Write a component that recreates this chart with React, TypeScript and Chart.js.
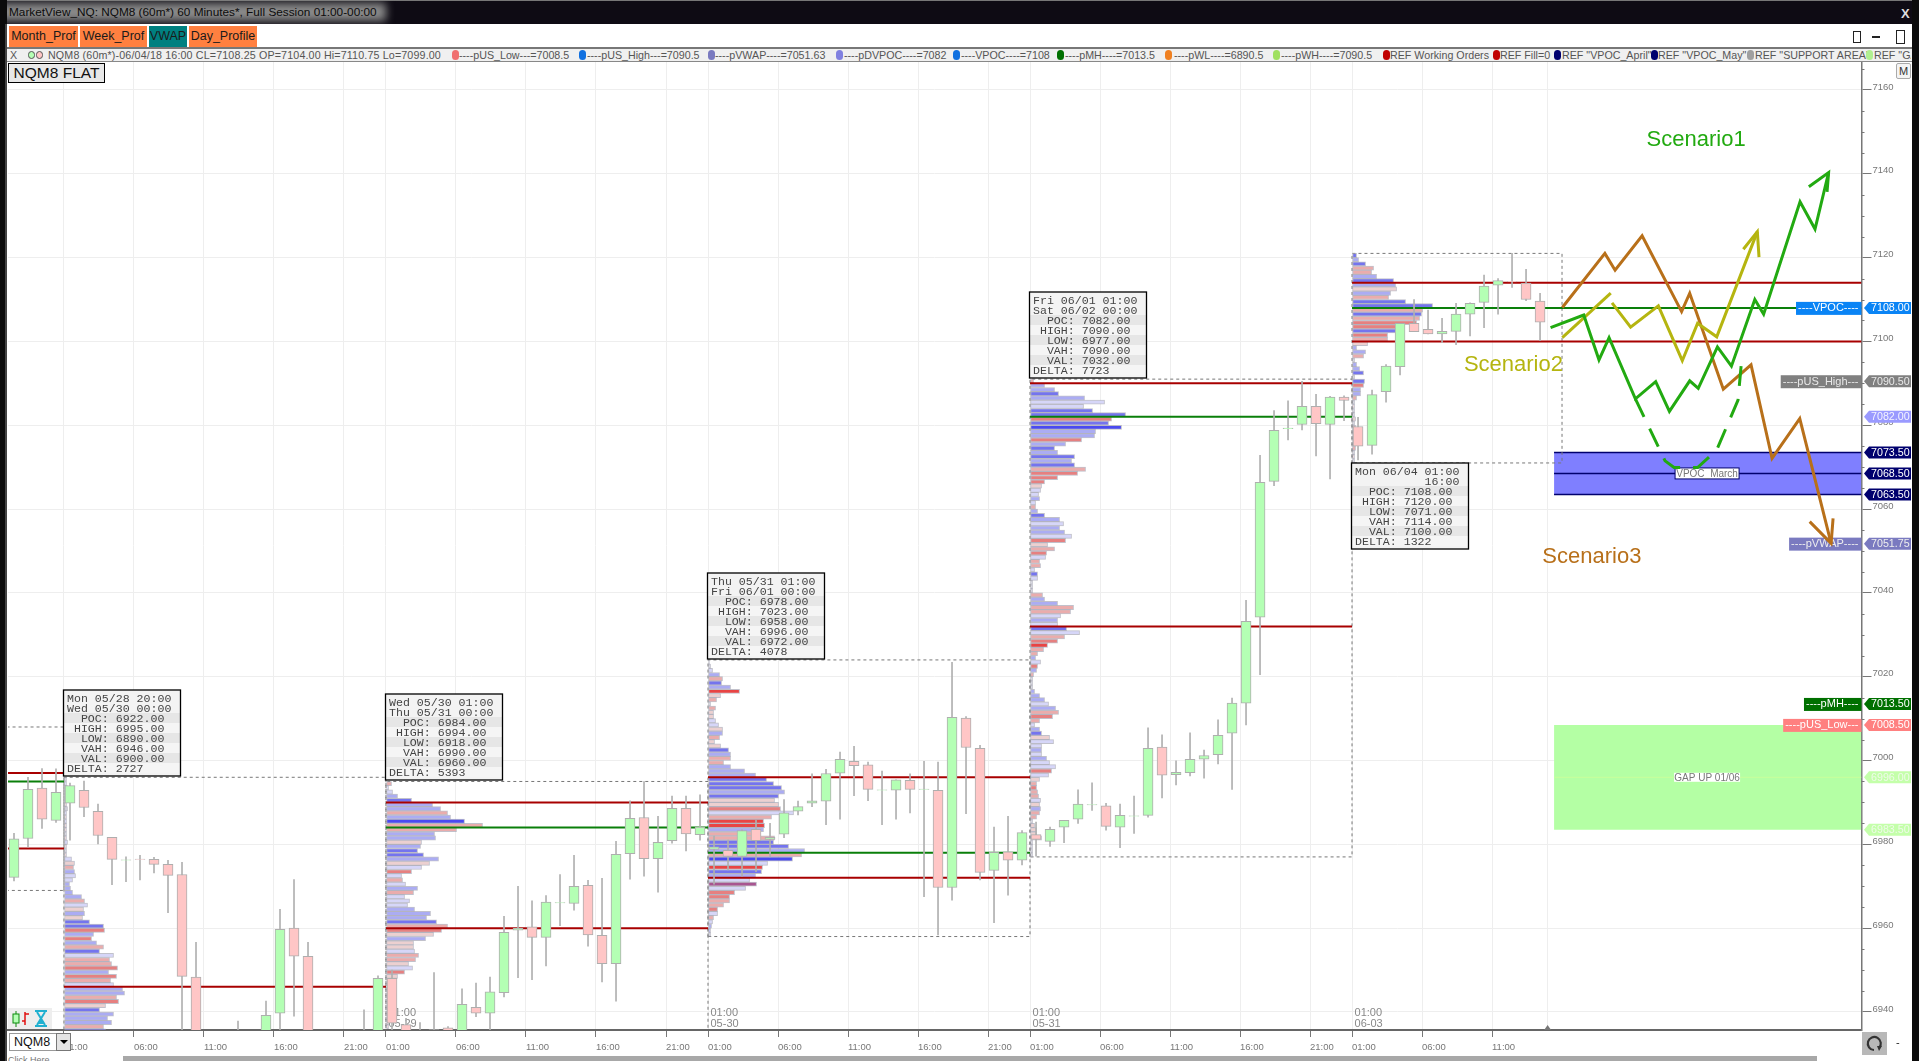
import React, { useEffect, useRef } from 'react';
import { Chart, registerables } from 'chart.js';

Chart.register(...registerables);

const UI_FONT = '"Liberation Sans", Arial, sans-serif';
const MONO_FONT = '"Liberation Mono", monospace';

// hourly candles, slot 1 is the first bar on the left edge
const candleOpen = [
  6972.1, 6981.4, 6993.4, 6985.7, 6989.8, 6992.9, 6987.9, 6981.7, 6976.2, 6976.5,
  6976.4, 6975.2, 6972.8, 6948.3, 6925, 6921, 6918, 6925, 6922, 6939.7,
  6960, 6953.3, 6930, 6926, 6930, 6928, 6932, 6948, 6937, 6930,
  6933, 6936.2, 6933, 6941.1, 6939.7, 6944.6, 6959.5, 6960.3, 6957.8, 6966,
  6965.9, 6970.2, 6958.3, 6951.5, 6977.8, 6986.4, 6976.6, 6980.9, 6988.6, 6982.3,
  6978.8, 6978.6, 6977.1, 6983.6, 6981.2, 6982.4, 6987.9, 6989.8, 6990.3, 6997,
  6999.8, 6999, 6992.9, 6992.9, 6995.3, 6993.1, 6992.9, 6969.7, 7010.1, 7002.9,
  6973.8, 6978.2, 6976.2, 6982.3, 6980.7, 6984.1, 6986, 6989.4, 6989.2, 6984.1,
  6986.7, 6986.9, 7003.2, 6996.6, 6997.1, 7000.3, 7001.4, 7006.5, 7013.7, 7034.2,
  7066.6, 7079.2, 7080.2, 7084.5, 7080.2, 7086.7, 7079.7, 7075.2, 7088, 7094,
  7104.3, 7102.9, 7101.8, 7102.4, 7106.5, 7109.3, 7113.4, 7114.3, 7113.9, 7109.6,
];
const candleHigh = [
  6982.6, 6996, 6998.1, 6998, 6994.6, 6995.1, 6989.6, 6981.7, 6977, 6977.4,
  6976.9, 6976.2, 6975.7, 6956.6, 6934, 6930, 6937.8, 6933, 6942.6, 6964.5,
  6971.6, 6956.6, 6934, 6932, 6934, 6940.5, 6948.6, 6950, 6938.5, 6937.5,
  6949.4, 6936.5, 6945.5, 6946.9, 6948.3, 6962.8, 6970, 6966.5, 6967.8, 6972.8,
  6977.4, 6971.4, 6971.9, 6980.7, 6990.4, 6995, 6986.7, 6991.5, 6991.5, 6991.8,
  6982, 6981, 6983.5, 6985.8, 6985, 6990.7, 6990.3, 6996.8, 6997.9, 7002,
  7003.4, 6999.6, 6997.5, 6995.4, 6996.8, 6999.8, 6999.6, 7023.4, 7010.5, 7003.6,
  6984.1, 6986.7, 6983.3, 6985.3, 6984.1, 6985.7, 6993, 6994.7, 6989.8, 6989.6,
  6991.5, 7007.8, 7006.1, 6999.9, 7006.6, 7002.5, 7009.7, 7014.9, 7038.2, 7072.8,
  7083.5, 7085.8, 7090.5, 7087.4, 7086.9, 7087, 7081.9, 7088.4, 7094.5, 7104.3,
  7110, 7107.5, 7105.5, 7109.1, 7109.2, 7115.8, 7115, 7121, 7117.2, 7111.5,
];
const candleLow = [
  6971.3, 6979.4, 6983.8, 6985.2, 6981, 6986.6, 6980.1, 6970.4, 6971.1, 6971.5,
  6973.2, 6963.7, 6930, 6920, 6918, 6915, 6912, 6918, 6918, 6930,
  6939, 6928, 6922, 6920, 6925, 6924, 6928, 6933, 6926, 6925,
  6930, 6930, 6930, 6938.9, 6934, 6943.6, 6948.2, 6947.7, 6951, 6960.6,
  6964.3, 6955.7, 6947.2, 6942.6, 6971.7, 6972.4, 6968.6, 6980.3, 6978.4, 6981,
  6970.5, 6973.9, 6972.4, 6973.5, 6977, 6981.6, 6987, 6989, 6984.7, 6986,
  6991.6, 6990.4, 6984.7, 6986, 6987.5, 6967.5, 6958.4, 6966.7, 6987.3, 6971.5,
  6961.3, 6967.9, 6975.1, 6977.2, 6979.5, 6980.4, 6985, 6988.1, 6983.4, 6979.2,
  6982.6, 6986.5, 6991.1, 6994.2, 6996.3, 6995.8, 6999.2, 6993.1, 7008.5, 7020.5,
  7065.6, 7076.5, 7078.9, 7072.7, 7067.2, 7081.1, 7071.7, 7073.1, 7085.5, 7092,
  7102.3, 7101.8, 7099.7, 7099.2, 7101.3, 7103.3, 7106.5, 7112.9, 7109.7, 7100.2,
];
const candleClose = [
  6981.3, 6993.1, 6986, 6992.4, 6994, 6988.8, 6982.1, 6976.4, 6976.3, 6976.4,
  6975.2, 6972.6, 6948.5, 6925, 6921, 6918, 6925, 6922, 6939.2, 6959.7,
  6953.3, 6930, 6926, 6930, 6928, 6932, 6948, 6937.3, 6930, 6932,
  6935.8, 6933, 6941.8, 6939.7, 6944.8, 6959, 6960, 6957.8, 6966.2, 6966.1,
  6970, 6958.4, 6951.5, 6977.6, 6986.2, 6976.6, 6980.5, 6988.6, 6982.5, 6984.1,
  6979.4, 6977.1, 6983.3, 6980.9, 6981.7, 6987.5, 6989, 6990.4, 6996.9, 7000.3,
  6998.8, 6993.1, 6993, 6995.4, 6993.1, 6993.2, 6969.7, 7010.3, 7003.1, 6973.3,
  6978.1, 6976.2, 6982.8, 6981.2, 6983.6, 6985.7, 6989.6, 6989.5, 6984.3, 6986.9,
  6986.8, 7002.9, 6996.5, 6997.2, 7000.3, 7001.2, 7006, 7013.7, 7033.2, 7066.4,
  7078.8, 7079.3, 7084.5, 7080.4, 7086.7, 7085.9, 7075, 7087.3, 7094.1, 7104.3,
  7102.3, 7101.8, 7102.4, 7106.5, 7109.1, 7113.2, 7114.5, 7114.2, 7110, 7104.6,
];

// sessions: first slot of each, and what the summary boxes say
const sessionStart = [4.57, 27.57, 50.57, 73.57, 96.57];
const sessionEnd = [27.57, 50.57, 73.57, 96.57, 111.57];
const sessionFrom = ['Mon 05/28 20:00', 'Wed 05/30 01:00', 'Thu 05/31 01:00', 'Fri 06/01 01:00', 'Mon 06/04 01:00'];
const sessionTo = ['Wed 05/30 00:00', 'Thu 05/31 00:00', 'Fri 06/01 00:00', 'Sat 06/02 00:00', '          16:00'];
const sessionPoc = [6922, 6984, 6978, 7082, 7108];
const sessionHigh = [6995, 6994, 7023, 7090, 7120];
const sessionLow = [6890, 6918, 6958, 6977, 7071];
const sessionVah = [6946, 6990, 6996, 7090, 7114];
const sessionVal = [6900, 6960, 6972, 7032, 7100];
const sessionDelta = [2727, 5393, 4078, 7723, 1322];

// volume profile rows, top row first, one row per point
const profileVolume0 = [
  2, 2, 3, 3, 2, 2, 2, 3, 2, 2, 2, 2, 2, 2, 2, 3, 2, 2, 2,
  7, 10, 9, 10, 11, 8, 5, 6, 8, 17, 20, 23, 19, 20, 18, 25, 39, 40, 29, 27, 32, 39, 35, 49,
  45, 47, 53, 44, 52, 46, 49, 58, 60, 52, 54, 41, 35, 49, 43, 47, 39, 41,
];
const profileTone0 = 'naadnadnadaddndadnd' + 'adebaabbbbeadbdccfbfbecaeefbfeabbefdcbbbec';
const profileVolume1 = [
  5, 2, 6, 11, 25, 46, 54, 61, 64, 78, 96, 70, 48, 49, 35, 34, 31, 37, 52, 43, 35, 25, 15, 16,
  19, 31, 27, 18, 23, 21, 28, 44, 40, 50, 61, 55, 47, 39, 27, 27, 28, 32, 29, 22, 26, 18, 11,
  8, 7, 6, 5, 5, 4, 4, 3, 3, 2, 2, 2,
];
const profileTone1 = 'eaabcbbebheebbdbccbdafaeabeaaabbbcefdbddaeedafd' + 'ddeddaaddadd';
const profileVolume2 = [
  1, 2, 4, 11, 14, 13, 22, 31, 12, 8, 2, 7, 5, 5, 7, 10, 14, 14, 11, 6, 12, 20, 22, 22, 15, 22,
  36, 47, 58, 65, 73, 76, 70, 66, 70, 72, 85, 63, 55, 56, 55, 52, 66, 65, 80, 96, 93, 84, 59, 54,
  53, 47, 41, 48, 37, 26, 21, 21, 15, 9, 9, 5, 4, 3, 2, 2,
];
const profileTone2 = 'nnabecbgdeneddaadbeddcbeebbbcccbcddfaeggbeeccbehagcbapaffeefaeabbnn';
const profileVolume3 = [
  3, 14, 24, 28, 54, 74, 53, 62, 95, 81, 78, 91, 65, 64, 51, 35, 24, 27, 44, 41,
  44, 55, 47, 27, 14, 11, 10, 8, 9, 5, 5, 7, 14, 29, 33, 29, 34, 41, 35, 17,
  24, 16, 15, 9, 10, 4, 7, 7, 2, 2, 2, 12, 14, 27, 43, 40, 30, 27, 27, 36,
  49, 34, 27, 17, 13, 7, 5, 10, 7, 6, 3, 2, 2, 2, 4, 9, 14, 18, 25, 28,
  22, 9, 4, 9, 11, 19, 23, 11, 11, 11, 16, 19, 25, 21, 18, 9, 6, 6, 7, 8,
  10, 9, 10, 9, 6, 2, 4, 6, 6, 11, 2, 2, 2, 2,
];
const profileTone3 =
  'ebbcbaaccf' + 'chbbfbcbcb' + 'cefffdaaba' + 'ebcbabbafd' + 'efaeeacann' +
  'nebbeeabac' + 'aefgeebafb' + 'ennnbbbabe' + 'feabcdaaba' + 'baafadefee' + 'adbeendddd' + 'nnnn';
const profileVolume4 = [
  4, 6, 13, 21, 19, 24, 41, 43, 44, 38, 36, 53, 80, 70, 69, 67, 64, 49, 44, 35, 35, 15, 4, 13,
  11, 2, 4, 7, 11, 2, 12, 11, 8, 8, 4, 2, 2, 2, 2, 3, 2, 3, 3, 3, 2, 3, 3, 2, 2, 2,
];
const profileTone4 = 'cbceebcbdbecceceffcfedbbenbbcncfbbendnndnenendendn';
const profileVolumes = [profileVolume0, profileVolume1, profileVolume2, profileVolume3, profileVolume4];
const profileTones = [profileTone0, profileTone1, profileTone2, profileTone3, profileTone4];
const toneColors: Record<string, string> = {
  a: '#d6d6f8', b: '#abacf3', c: '#7474ee', h: '#4a4af0', n: '#cfcfd8',
  d: '#ecd0d0', e: '#eaacac', f: '#e68080', g: '#e84444', p: '#a85590',
};

// the session that ran off the left edge
const prevLevels = [6997, 6995, 6979];
const prevBoxHigh = 7008;
const prevBoxLow = 6969;

// hand-drawn scenario paths, [slot, price]
const scenario1Path = [
  [110.75, 7103.3], [113.12, 7106.3], [114.21, 7095.6], [114.93, 7100.9], [116.81, 7086.3], [118.26, 7090.4],
  [119.24, 7083.3], [120.69, 7090.6], [121.3, 7088.8], [122.67, 7098.7], [123.67, 7094.1], [125.34, 7110],
  [125.97, 7106.5], [128.57, 7133.3], [129.64, 7126.8], [130.61, 7140.3],
];
const scenario1Head = [[129.2, 7136.9], [130.61, 7140.3], [130.5, 7135.7]];
const scenario1Dashed = [
  [116.81, 7086.3], [118.93, 7071.5], [119.57, 7069.9], [121.25, 7069.9], [122.62, 7074.1], [124.14, 7086], [124.36, 7094.1],
];
const scenario2Start = [[111.59, 7100.9], [115.05, 7111.5]];
const scenario2Path = [
  [115.14, 7109.2], [116.47, 7103.4], [118.45, 7108.5], [120.16, 7095.4], [121.25, 7104.3], [122.62, 7101.1], [125.52, 7126.2],
];
const scenario2Head = [[124.52, 7122], [125.52, 7126.2], [125.64, 7120.1]];
const scenario3Path = [
  [111.59, 7108.1], [114.63, 7121], [115.36, 7117], [117.29, 7125.2], [120.11, 7107.1], [120.69, 7111.5],
  [123.09, 7088.6], [125.07, 7094.4], [126.57, 7072.1], [128.55, 7081.6], [130.79, 7051.8],
];
const scenario3Head = [[129.26, 7057], [130.79, 7051.8], [130.93, 7057.8]];

const scenarioNames = ['Scenario1', 'Scenario2', 'Scenario3'];
const scenarioNameSlots = [121.15, 108.1, 113.7];
const scenarioNamePrices = [7148, 7094.3, 7048.6];
const scenarioColors = ['#22aa11', '#b5b510', '#b8701a'];

// price zones
const vpocZone = [7073.5, 7068.5, 7063.5];
const gapZone = [7008.5, 6996, 6983.5];
const zoneStart = 111;

// right-hand price tags
const tagPrices = [7108, 7090.5, 7082, 7073.5, 7068.5, 7063.5, 7051.75, 7013.5, 7008.5, 6996, 6983.5];
const tagTitles = ['----VPOC----', '----pUS_High---', '', '', '', '', '----pVWAP----', '----pMH----', '----pUS_Low---', '', ''];
const tagColors = ['#0a84f5', '#808080', '#9a9aff', '#00006e', '#00006e', '#00006e', '#7a7ac0', '#007000', '#ff8080', '#c4ffaa', '#c4ffaa'];
const tagInk = ['#fff', '#e8e8e8', '#f4f4ff', '#fff', '#fff', '#fff', '#eee', '#fff', '#fff', '#eefbe8', '#eefbe8'];

// time axis
const timeTickSlots = [
  4.57, 9.57, 14.57, 19.57, 24.57, 27.57, 32.57, 37.57, 42.57, 47.57, 50.57, 55.57, 60.57, 65.57, 70.57,
  73.57, 78.57, 83.57, 88.57, 93.57, 96.57, 101.57, 106.57, 110.54,
];
const timeTickLabels = [
  '01:00', '06:00', '11:00', '16:00', '21:00', '01:00', '06:00', '11:00', '16:00', '21:00', '01:00', '06:00', '11:00', '16:00', '21:00',
  '01:00', '06:00', '11:00', '16:00', '21:00', '01:00', '06:00', '11:00', '',
];
const dayMarkSlots = [27.57, 50.57, 73.57, 96.57];
const dayMarkDates = ['05-29', '05-30', '05-31', '06-03'];

const legendItems: [number, string, number, string][] = [
  [455, '#f07070', 459, '----pUS_Low---=7008.5'],
  [582, '#1070e0', 587, '----pUS_High---=7090.5'],
  [711, '#7a7ac0', 715, '----pVWAP----=7051.63'],
  [839, '#8080e0', 844, '----pDVPOC----=7082'],
  [956, '#1070e0', 961, '----VPOC----=7108'],
  [1060, '#007000', 1065, '----pMH----=7013.5'],
  [1168, '#f08020', 1174, '----pWL----=6890.5'],
  [1276, '#a0e060', 1281, '----pWH----=7090.5'],
  [1386, '#c00000', 1390, 'REF Working Orders'],
  [1496, '#c00000', 1500, 'REF Fill=0'],
  [1557, '#00006e', 1562, 'REF "VPOC_April"'],
  [1654, '#00006e', 1658, 'REF "VPOC_May"'],
  [1750, '#a0a0a0', 1755, 'REF "SUPPORT AREA"'],
  [1869, '#b0f090', 1874, 'REF "GA'],
];

const X_MIN = 0.5714;
const X_MAX = 132.96;
const Y_MIN = 6935.7;
const Y_MAX = 7166.67;
const VOLUME_PER_SLOT = 14;

const toPoints = (path: number[][]) => path.map(([x, y]) => ({ x, y }));

const lineSet = (label: string, path: number[][], color: string, width: number, order: number, extra: object = {}) => ({
  type: 'line' as const,
  label,
  data: toPoints(path),
  borderColor: color,
  borderWidth: width,
  pointRadius: 0,
  tension: 0,
  order,
  ...extra,
});

const boxPath = (x0: number, x1: number, top: number, bottom: number) => [
  [x0, bottom], [x0, top], [x1, top], [x1, bottom], [x0, bottom],
];

const buildDatasets = () => {
  const sets: any[] = [];

  // zones at the back
  sets.push(lineSet('VPOC zone', [[zoneStart, vpocZone[0]], [X_MAX, vpocZone[0]]], '#00006e', 1.5, 7, { fill: { value: vpocZone[2] }, backgroundColor: '#7f7fff' }));
  sets.push(lineSet('VPOC zone mid', [[zoneStart, vpocZone[1]], [X_MAX, vpocZone[1]]], '#00006e', 1.5, 4));
  sets.push(lineSet('VPOC zone low', [[zoneStart, vpocZone[2]], [X_MAX, vpocZone[2]]], '#00006e', 1.5, 4));
  sets.push(lineSet('Gap zone', [[zoneStart, gapZone[0]], [X_MAX, gapZone[0]]], '#b4ffa4', 0, 7, { fill: { value: gapZone[2] }, backgroundColor: '#b4ffa4' }));
  sets.push(lineSet('Gap zone mid', [[zoneStart, gapZone[1]], [X_MAX, gapZone[1]]], '#c8ff9c', 1, 6));

  // session boxes
  const dash = { borderDash: [3, 3] };
  sets.push(lineSet('Prev box', boxPath(-2, sessionStart[0], prevBoxHigh, prevBoxLow), '#777', 1, 6, dash));
  sessionStart.forEach((start, i) => {
    sets.push(lineSet(`Box ${i}`, boxPath(start, sessionEnd[i], sessionHigh[i] + 1, sessionLow[i]), '#777', 1, 6, dash));
  });

  // profiles
  profileVolumes.forEach((volumes, i) => {
    sets.push({
      type: 'bar',
      label: `Profile ${i}`,
      indexAxis: 'y',
      grouped: false,
      barThickness: 4.2,
      borderWidth: 1,
      borderSkipped: false,
      borderColor: 'rgba(160,160,175,0.65)',
      backgroundColor: volumes.map((_, j) => toneColors[profileTones[i][j]] || toneColors.a),
      data: volumes.map((v, j) => ({
        x: [sessionStart[i] + 0.04, sessionStart[i] + 0.04 + v / VOLUME_PER_SLOT],
        y: sessionHigh[i] - j + 0.5,
      })),
      order: 5,
    });
  });

  // value area and point of control lines
  prevLevels.forEach((level, i) => {
    sets.push(lineSet(`Prev ${i}`, [[-2, level], [sessionStart[0], level]], i === 1 ? '#0a7f0a' : '#a80000', 2, 4));
  });
  sessionStart.forEach((start, i) => {
    const end = i === sessionStart.length - 1 ? X_MAX : sessionEnd[i];
    sets.push(lineSet(`VAH ${i}`, [[start, sessionVah[i]], [end, sessionVah[i]]], '#a80000', 2, 4));
    sets.push(lineSet(`VAL ${i}`, [[start, sessionVal[i]], [end, sessionVal[i]]], '#a80000', 2, 4));
    sets.push(lineSet(`POC ${i}`, [[start, sessionPoc[i]], [end, sessionPoc[i]]], '#0a7f0a', 2, 4));
  });

  // candles
  sets.push({
    type: 'bar',
    label: 'Wicks',
    grouped: false,
    barThickness: 1,
    backgroundColor: '#b0b0b0',
    data: candleHigh.map((h, i) => ({ x: i + 1, y: [candleLow[i], h] })),
    order: 3,
  });
  sets.push({
    type: 'bar',
    label: 'Bodies',
    grouped: false,
    barThickness: 10,
    borderWidth: 1,
    borderSkipped: false,
    borderColor: '#aeaeae',
    backgroundColor: candleOpen.map((o, i) => (candleClose[i] >= o ? '#b4ffb4' : '#ffc6c6')),
    data: candleOpen.map((o, i) => ({ x: i + 1, y: [o, candleClose[i]] })),
    order: 2,
  });

  // layer marker: labels get painted here, under the scenario strokes
  sets.push({ type: 'line', label: 'label-layer', data: [], order: 1.5 });

  // scenarios
  sets.push(lineSet('Scenario 1', scenario1Path, scenarioColors[0], 3, 1));
  sets.push(lineSet('Scenario 1 head', scenario1Head, scenarioColors[0], 3, 1));
  sets.push(lineSet('Scenario 1 alt', scenario1Dashed, scenarioColors[0], 3, 1, { borderDash: [20, 13] }));
  sets.push(lineSet('Scenario 2 start', scenario2Start, scenarioColors[1], 3, 1));
  sets.push(lineSet('Scenario 2', scenario2Path, scenarioColors[1], 3, 1));
  sets.push(lineSet('Scenario 2 head', scenario2Head, scenarioColors[1], 3, 1));
  sets.push(lineSet('Scenario 3', scenario3Path, scenarioColors[2], 3, 1));
  sets.push(lineSet('Scenario 3 head', scenario3Head, scenarioColors[2], 3, 1));
  return sets;
};

const drawTagLabel = (ctx: CanvasRenderingContext2D, text: string, right: number, y: number, color: string, ink: string) => {
  ctx.font = `11px ${UI_FONT}`;
  const w = ctx.measureText(text).width + 5;
  ctx.fillStyle = color;
  ctx.fillRect(right - w, y - 6, w, 13);
  ctx.fillStyle = ink;
  ctx.textAlign = 'left';
  ctx.textBaseline = 'middle';
  ctx.fillText(text, right - w + 2, y + 0.5);
};

const drawBoxedNote = (ctx: CanvasRenderingContext2D, text: string, cx: number, y: number, w: number, h: number, edge: string) => {
  ctx.fillStyle = '#fff';
  ctx.fillRect(cx - w / 2, y - h / 2, w, h);
  if (edge) {
    ctx.strokeStyle = edge;
    ctx.lineWidth = 1;
    ctx.strokeRect(cx - w / 2, y - h / 2, w, h);
  }
  ctx.fillStyle = '#777';
  ctx.font = `10px ${UI_FONT}`;
  ctx.textAlign = 'center';
  ctx.textBaseline = 'middle';
  ctx.fillText(text, cx, y + 0.5);
};

const tradingPlugin = {
  id: 'tradingOverlay',
  // date marks go under the candles
  beforeDatasetsDraw(chart: any) {
    const { ctx, scales } = chart;
    ctx.save();
    ctx.fillStyle = '#888';
    ctx.font = `11px ${UI_FONT}`;
    ctx.textAlign = 'left';
    ctx.textBaseline = 'middle';
    dayMarkSlots.forEach((slot, i) => {
      const x = scales.x.getPixelForValue(slot) + 2.5;
      ctx.fillText('01:00', x, scales.y.bottom - 17);
      ctx.fillText(dayMarkDates[i], x, scales.y.bottom - 6);
    });
    ctx.restore();
  },
  beforeDatasetDraw(chart: any, args: any) {
    if (chart.data.datasets[args.index].label !== 'label-layer') return;
    const { ctx, scales } = chart;
    ctx.save();
    tagPrices.forEach((price, i) => {
      if (tagTitles[i]) {
        drawTagLabel(ctx, tagTitles[i], scales.x.right, scales.y.getPixelForValue(price), tagColors[i], tagInk[i]);
      }
    });
    const noteX = scales.x.getPixelForValue(121.93);
    drawBoxedNote(ctx, 'VPOC_March', noteX, scales.y.getPixelForValue(vpocZone[1]), 64, 11, '#00006e');
    drawBoxedNote(ctx, 'GAP UP 01/06', noteX, scales.y.getPixelForValue(gapZone[1]), 66, 9, '');
    ctx.restore();
  },
  afterDatasetsDraw(chart: any) {
    const { ctx, scales } = chart;
    const xs = scales.x;
    const ys = scales.y;
    ctx.save();

    // summary boxes
    sessionStart.forEach((start, i) => {
      const rows = [
        sessionFrom[i],
        sessionTo[i],
        `  POC: ${sessionPoc[i].toFixed(2)}`,
        ` HIGH: ${sessionHigh[i].toFixed(2)}`,
        `  LOW: ${sessionLow[i].toFixed(2)}`,
        `  VAH: ${sessionVah[i].toFixed(2)}`,
        `  VAL: ${sessionVal[i].toFixed(2)}`,
        `DELTA: ${sessionDelta[i]}`,
      ];
      const left = Math.round(xs.getPixelForValue(start)) - 0.5;
      const last = i === sessionStart.length - 1;
      const top = last ? Math.round(ys.getPixelForValue(sessionLow[i])) : Math.round(ys.getPixelForValue(sessionHigh[i] + 1)) - 87;
      ctx.fillStyle = '#f3f3f3';
      ctx.fillRect(left, top, 117, 86);
      rows.forEach((row, r) => {
        const rowY = top + 3 + r * 10;
        if (r >= 2) {
          ctx.fillStyle = r % 2 === 0 ? '#e6e6e6' : '#f5f5f5';
          ctx.fillRect(left, rowY, 117, 10);
        }
        ctx.fillStyle = '#444';
        ctx.font = `11.6px ${MONO_FONT}`;
        ctx.textAlign = 'left';
        ctx.textBaseline = 'middle';
        ctx.fillText(row, left + 3.5, rowY + 5.5);
      });
      ctx.strokeStyle = '#000';
      ctx.lineWidth = 1.3;
      ctx.strokeRect(left, top, 117, 86);
    });

    // scenario names
    ctx.font = `22px ${UI_FONT}`;
    ctx.textAlign = 'center';
    ctx.textBaseline = 'middle';
    scenarioNames.forEach((name, i) => {
      ctx.fillStyle = scenarioColors[i];
      ctx.fillText(name, xs.getPixelForValue(scenarioNameSlots[i]), ys.getPixelForValue(scenarioNamePrices[i]));
    });

    // short price-axis ticks
    ctx.strokeStyle = '#777';
    ctx.lineWidth = 1;
    ys.ticks.forEach((tick: any) => {
      if (tick.value % 20 !== 0) {
        const y = Math.round(ys.getPixelForValue(tick.value)) + 0.5;
        ctx.beginPath();
        ctx.moveTo(xs.right, y);
        ctx.lineTo(xs.right + 3, y);
        ctx.stroke();
      }
    });

    // price tags
    tagPrices.forEach((price, i) => {
      const y = ys.getPixelForValue(price);
      const tip = xs.right + 2.5;
      ctx.fillStyle = tagColors[i];
      ctx.beginPath();
      ctx.moveTo(tip, y);
      ctx.lineTo(tip + 5, y - 6);
      ctx.lineTo(1911, y - 6);
      ctx.lineTo(1911, y + 6);
      ctx.lineTo(tip + 5, y + 6);
      ctx.closePath();
      ctx.fill();
      ctx.fillStyle = tagInk[i];
      ctx.font = `10.7px ${UI_FONT}`;
      ctx.textAlign = 'left';
      ctx.textBaseline = 'middle';
      ctx.fillText(price.toFixed(2), tip + 7, y + 0.5);
    });

    // last-bar marker on the time axis
    const markX = xs.getPixelForValue(timeTickSlots[timeTickSlots.length - 1]);
    ctx.fillStyle = '#777';
    ctx.beginPath();
    ctx.moveTo(markX - 3.5, ys.bottom);
    ctx.lineTo(markX, ys.bottom - 5);
    ctx.lineTo(markX + 3.5, ys.bottom);
    ctx.closePath();
    ctx.fill();
    ctx.restore();
  },
};

const abs = (left: number, top: number, width: number, height: number, extra: React.CSSProperties = {}): React.CSSProperties => ({
  position: 'absolute', left, top, width, height, ...extra,
});

const toolButton = (text: string, left: number, width: number, color: string) => (
  <div key={text} style={abs(left, 26, width, 21, { background: color, fontSize: 12.5, lineHeight: '21px', textAlign: 'center', color: '#1a1a1a', whiteSpace: 'nowrap' })}>
    {text}
  </div>
);

const App: React.FC = () => {
  const chartRef = useRef<HTMLCanvasElement>(null);

  useEffect(() => {
    document.body.style.margin = '0';
    if (!chartRef.current) return;
    const chart = new Chart(chartRef.current, {
      type: 'bar',
      data: { datasets: buildDatasets() },
      plugins: [tradingPlugin],
      options: {
        animation: false,
        responsive: false,
        devicePixelRatio: 1,
        events: [],
        layout: { padding: { left: 8, top: 62, right: 7, bottom: 6 } },
        plugins: { legend: { display: false }, tooltip: { enabled: false } },
        scales: {
          x: {
            type: 'linear',
            offset: false,
            min: X_MIN,
            max: X_MAX,
            afterBuildTicks: (scale: any) => {
              scale.ticks = timeTickSlots.map((value) => ({ value }));
            },
            afterFit: (scale: any) => {
              scale.height = 25;
            },
            border: { color: '#666', width: 2 },
            grid: {
              offset: false,
              color: '#eeeeee',
              tickLength: 7,
              tickColor: (ctx: any) => (ctx.tick && ctx.tick.value === 110.54 ? 'rgba(0,0,0,0)' : '#777'),
            },
            ticks: {
              autoSkip: false,
              maxRotation: 0,
              align: 'start',
              padding: 5,
              color: '#777',
              font: { family: 'Liberation Sans', size: 9.5 },
              callback: (value: any) => timeTickLabels[timeTickSlots.indexOf(Number(value))] ?? '',
            },
          },
          y: {
            type: 'linear',
            position: 'right',
            offset: false,
            min: Y_MIN,
            max: Y_MAX,
            afterFit: (scale: any) => {
              scale.width = 50.5;
            },
            border: { color: '#777', width: 1.5 },
            grid: {
              offset: false,
              tickLength: 10,
              color: (ctx: any) => (ctx.tick && ctx.tick.value % 20 === 0 ? '#eeeeee' : 'rgba(0,0,0,0)'),
              tickColor: (ctx: any) => (ctx.tick && ctx.tick.value % 20 === 0 ? '#777' : 'rgba(0,0,0,0)'),
            },
            ticks: {
              stepSize: 5,
              includeBounds: false,
              autoSkip: false,
              padding: 1,
              labelOffset: -3,
              color: '#777',
              font: { family: 'Liberation Sans', size: 9.5 },
              callback: (value: any) => (Number(value) % 20 === 0 ? String(value) : ''),
            },
          },
        },
      } as any,
    });
    return () => chart.destroy();
  }, []);

  return (
    <div style={abs(0, 0, 1919, 1061, { overflow: 'hidden', background: '#fff', fontFamily: UI_FONT })}>
      <canvas ref={chartRef} width={1919} height={1061} style={abs(0, 0, 1919, 1061, { display: 'block' })} />

      {/* window frame */}
      <div style={abs(0, 0, 1919, 24, { background: '#0e0b14', borderTop: '1px solid #777', boxSizing: 'border-box' })} />
      <div style={abs(-8, 3, 394, 18, { background: '#8a8a8a', filter: 'blur(4px)' })} />
      <div style={abs(9, 4, 400, 16, { fontSize: 11.8, lineHeight: '16px', color: '#0c0c0c', whiteSpace: 'nowrap' })}>
        MarketView_NQ: NQM8 (60m*) 60 Minutes*, Full Session 01:00-00:00
      </div>
      <div style={abs(1901, 6, 12, 14, { color: '#ddd', fontSize: 13, fontWeight: 700 })}>X</div>
      <div style={abs(0, 0, 7, 1061, { background: '#0b0b0b' })} />
      <div style={abs(5, 24, 2, 1037, { background: '#444' })} />
      <div style={abs(1912, 0, 7, 1061, { background: '#0b0b0b' })} />

      {/* toolbar */}
      <div style={abs(7, 24, 1905, 23, { background: '#fff' })} />
      {toolButton('Month_Prof', 9, 69, '#ff8040')}
      {toolButton('Week_Prof', 80, 67, '#ff8040')}
      {toolButton('VWAP', 149, 38, '#008080')}
      {toolButton('Day_Profile', 189, 68, '#ff8040')}
      <div style={abs(1853, 31, 6, 10, { border: '1px solid #222' })} />
      <div style={abs(1872, 36, 8, 2, { background: '#222' })} />
      <div style={abs(1896, 30, 7, 12, { border: '1px solid #222' })} />

      {/* legend strip */}
      <div style={abs(7, 47, 1905, 15, { background: '#f0f0f0', borderTop: '2px solid #777', borderBottom: '1px solid #888', boxSizing: 'border-box', overflow: 'hidden' })} />
      <div style={abs(10, 49, 1901, 12, { overflow: 'hidden', fontSize: 10.7, lineHeight: '12px', color: '#555', whiteSpace: 'nowrap' })}>
        <span style={{ position: 'absolute', left: 0 }}>X</span>
        <span style={{ position: 'absolute', left: 18, top: 2, width: 7, height: 8, borderRadius: 4, background: '#b4ffb4', border: '1px solid #555', boxSizing: 'border-box' }} />
        <span style={{ position: 'absolute', left: 26, top: 2, width: 7, height: 8, borderRadius: 4, background: '#ffc6c6', border: '1px solid #555', boxSizing: 'border-box' }} />
        <span style={{ position: 'absolute', left: 38, letterSpacing: 0.15 }}>NQM8 (60m*)-06/04/18 16:00 CL=7108.25 OP=7104.00 Hi=7110.75 Lo=7099.00</span>
        {legendItems.map(([dotX, color, textX, text]) => (
          <React.Fragment key={text}>
            <span style={{ position: 'absolute', left: dotX - 13, top: 1, width: 7, height: 10, borderRadius: 4, background: color }} />
            <span style={{ position: 'absolute', left: textX - 10 }}>{text}</span>
          </React.Fragment>
        ))}
      </div>

      {/* chart furniture */}
      <div style={abs(8, 63, 95, 18, { background: '#e8e8e8', border: '1px solid #000', fontSize: 15.5, lineHeight: '18px', textAlign: 'center', color: '#111', whiteSpace: 'nowrap' })}>
        NQM8 FLAT
      </div>
      <div style={abs(1896, 63, 13, 14, { border: '1px solid #aaa', borderRadius: 2, fontSize: 11, lineHeight: '14px', textAlign: 'center', color: '#333', background: '#f4f4f4' })}>M</div>
      <svg style={abs(8, 1008, 44, 21)} viewBox="0 0 44 21">
        <rect width="44" height="21" fill="#eeeeee" />
        <line x1="8" y1="3" x2="8" y2="19" stroke="#0a8a0a" />
        <rect x="5" y="6" width="6" height="9" fill="#b4ffb4" stroke="#0a8a0a" />
        <line x1="17" y1="4" x2="17" y2="17" stroke="#e01010" strokeWidth="1.5" />
        <line x1="17" y1="6" x2="21" y2="6" stroke="#e01010" strokeWidth="1.5" />
        <line x1="14" y1="13" x2="17" y2="13" stroke="#e01010" strokeWidth="1.5" />
        <path d="M27 3 H39 M27 18 H39 M29 4 L37 17 M37 4 L29 17" stroke="#20b0d0" strokeWidth="2" fill="none" />
        <path d="M29 16 L33 10 L37 16 Z" fill="#20b0d0" />
      </svg>

      {/* bottom bar */}
      <div style={abs(9, 1033, 62, 18, { background: '#fff', border: '1px solid #999', boxSizing: 'border-box', fontSize: 12.5, lineHeight: '16px', paddingLeft: 4, color: '#111' })}>NQM8</div>
      <div style={abs(56, 1033, 15, 18, { background: '#e4e4e4', border: '1px solid #777', boxSizing: 'border-box' })}>
        <div style={{ width: 0, height: 0, margin: '6px auto 0', borderLeft: '4px solid transparent', borderRight: '4px solid transparent', borderTop: '4px solid #000' }} />
      </div>
      <div style={abs(1862, 1032, 25, 23, { background: '#b8b8b8' })}>
        <svg width="25" height="23" viewBox="0 0 25 23">
          <path d="M17 16 A6.5 6.5 0 1 0 12 18" fill="none" stroke="#333" strokeWidth="2.2" />
          <path d="M15 14 L20 14 L17 19 Z" fill="#333" />
        </svg>
      </div>
      <div style={abs(1896, 1036, 8, 14, { fontSize: 11, color: '#222' })}>-</div>
      <div style={abs(7, 1055, 1905, 6, { background: '#fff' })} />
      <div style={abs(123, 1056, 1694, 5, { background: '#a8a8a8' })} />
      <div style={abs(8, 1056, 105, 5, { overflow: 'hidden', fontSize: 9, lineHeight: '9px', color: '#777' })}>Click Here</div>
    </div>
  );
};

export default App;
